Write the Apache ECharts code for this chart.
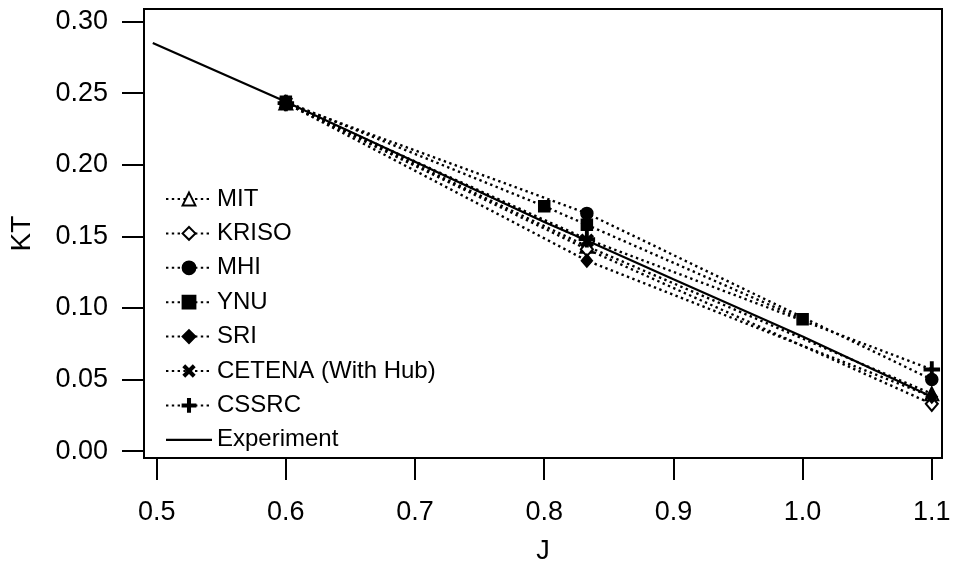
<!DOCTYPE html>
<html>
<head>
<meta charset="utf-8">
<script src="https://cdn.jsdelivr.net/npm/echarts@6/dist/echarts.min.js"></script>
<style>
html,body{margin:0;padding:0;background:#fff;}
#chart{width:955px;height:570px;}
</style>
</head>
<body>
<div id="chart"></div>
<script>
// ---- data ----
const xTicks = [0.5, 0.6, 0.7, 0.8, 0.9, 1.0, 1.1];
const yTicks = [0.00, 0.05, 0.10, 0.15, 0.20, 0.25, 0.30];

const J_MIT = [0.6, 0.833, 1.1];
const KT_MIT = [0.243, 0.143, 0.040];

const J_KRISO = [0.6, 0.833, 1.1];
const KT_KRISO = [0.243, 0.141, 0.033];

const J_MHI = [0.6, 0.833, 1.1];
const KT_MHI = [0.243, 0.166, 0.050];

const J_YNU = [0.6, 0.8, 0.833, 1.0];
const KT_YNU = [0.244, 0.171, 0.158, 0.092];

const J_SRI = [0.6, 0.833, 1.1];
const KT_SRI = [0.243, 0.133, 0.038];

const J_CETENA = [0.6, 0.833];
const KT_CETENA = [0.243, 0.147];

const J_CSSRC = [0.6, 0.833, 1.1];
const KT_CSSRC = [0.243, 0.148, 0.057];

const J_EXP = [0.497, 0.6, 0.7, 0.8, 0.833, 0.9, 1.0, 1.1];
const KT_EXP = [0.285, 0.244, 0.202, 0.160, 0.147, 0.120, 0.080, 0.038];

// ---- build ----
const pair = (xs, ys) => xs.map((x, i) => [x, ys[i]]);
const FONT = 'Liberation Sans, Arial, sans-serif';
const plusPath = 'path://M4.2,0H5.8V4.2H10V5.8H5.8V10H4.2V5.8H0V4.2H4.2Z';
const solidIcon = 'path://M0,0H0.01V0.01H0Z M0,6.9H46V9.1H0Z M0,15.99H0.01V16H0Z';

function pts(name, data, symbol, size, z, rotate) {
  return {
    name: name, type: 'line', data: data,
    symbol: symbol, symbolSize: size, symbolRotate: rotate || 0,
    showAllSymbol: true,
    z: z,
    lineStyle: {color: '#000', width: 2.4, type: [2.4, 3.4]},
    itemStyle: {color: '#000', borderColor: '#000', borderWidth: 1.5},
    emphasis: {disabled: true},
    animation: false
  };
}

const series = [
  {
    name: 'Experiment', type: 'line', data: pair(J_EXP, KT_EXP),
    symbol: 'none', z: 2,
    lineStyle: {color: '#000', width: 2.2},
    itemStyle: {color: '#000'},
    animation: false
  },
  pts('MIT', pair(J_MIT, KT_MIT), 'emptyTriangle', 13, 3),
  pts('KRISO', pair(J_KRISO, KT_KRISO), 'emptyDiamond', [12, 14], 3),
  pts('MHI', pair(J_MHI, KT_MHI), 'circle', 12, 3),
  pts('SRI', pair(J_SRI, KT_SRI), 'diamond', [11, 13], 3),
  pts('CETENA (With Hub)', pair(J_CETENA, KT_CETENA), plusPath, 15, 3, 45),
  pts('CSSRC', pair(J_CSSRC, KT_CSSRC), plusPath, 15, 3),
  pts('YNU', pair(J_YNU, KT_YNU), 'rect', 11, 4)
];

const chart = echarts.init(document.getElementById('chart'), null, {renderer: 'canvas'});
chart.setOption({
  backgroundColor: '#fff',
  animation: false,
  grid: {left: 139, right: 13, top: 9, bottom: 104, show: true, borderColor: '#000', borderWidth: 2, backgroundColor: 'transparent', containLabel: false},
  legend: {
    orient: 'vertical', left: 160, top: 182,
    itemWidth: 46, itemHeight: 16, itemGap: 10.4,
    data: ['MIT', 'KRISO', 'MHI', 'YNU', 'SRI', 'CETENA (With Hub)', 'CSSRC', {name: 'Experiment', icon: solidIcon}],
    textStyle: {fontFamily: FONT, fontSize: 24, color: '#000'},
    selectedMode: false,
    inactiveColor: '#000'
  },
  xAxis: {
    type: 'value', min: 0.4902, max: 1.1079,
    name: 'J', nameLocation: 'middle', nameGap: 80,
    nameTextStyle: {fontFamily: FONT, fontSize: 27, color: '#000'},
    axisLine: {show: true, onZero: false, lineStyle: {color: '#000', width: 2}},
    axisTick: {show: true, length: 22, lineStyle: {color: '#000', width: 2}, customValues: xTicks},
    axisLabel: {fontFamily: FONT, fontSize: 27, color: '#000', margin: 41, customValues: xTicks,
      formatter: v => Number(v).toFixed(1)},
    splitLine: {show: false}
  },
  yAxis: {
    type: 'value', min: -0.0048, max: 0.3087,
    name: 'KT', nameLocation: 'middle', nameGap: 108, nameRotate: 90,
    nameTextStyle: {fontFamily: FONT, fontSize: 28, color: '#000'},
    axisLine: {show: true, onZero: false, lineStyle: {color: '#000', width: 2}},
    axisTick: {show: true, length: 22, lineStyle: {color: '#000', width: 2}, customValues: yTicks},
    axisLabel: {fontFamily: FONT, fontSize: 27, color: '#000', margin: 36, customValues: yTicks,
      formatter: v => Number(v).toFixed(2)},
    splitLine: {show: false}
  },
  series: series
});
</script>
</body>
</html>
